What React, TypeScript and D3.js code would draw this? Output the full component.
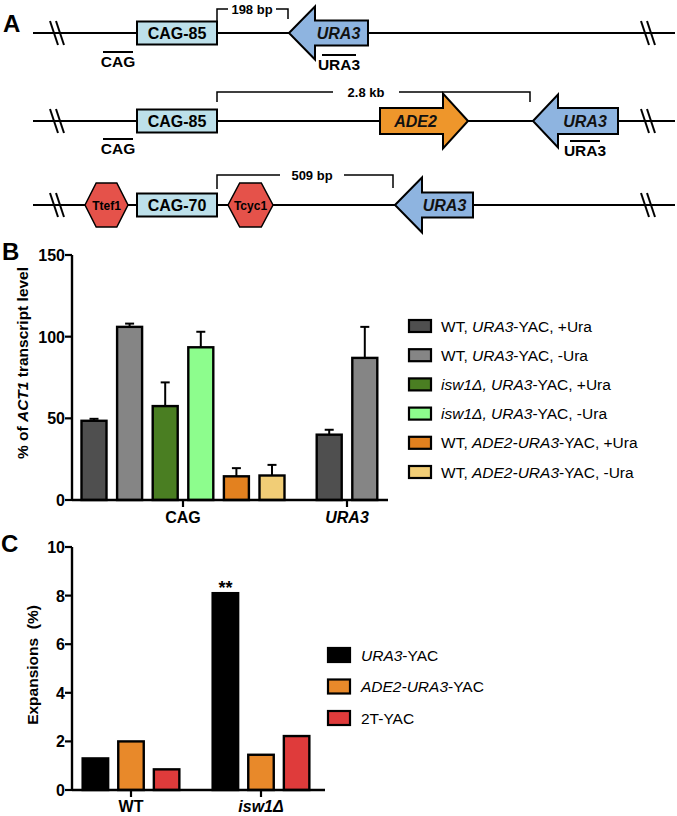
import React from "react";
import * as d3 from "d3";

// ---------- Panel B data ----------
const bCategories = ["CAG", "URA3"];
const bSeries = [
  "WT, URA3-YAC, +Ura",
  "WT, URA3-YAC, -Ura",
  "isw1Δ, URA3-YAC, +Ura",
  "isw1Δ, URA3-YAC, -Ura",
  "WT, ADE2-URA3-YAC, +Ura",
  "WT, ADE2-URA3-YAC, -Ura",
];
const bColors = ["#4f4f4f", "#858585", "#4a7e22", "#8dfd8d", "#e3811f", "#f1cd76"];
const bCagValues = [48.5, 106, 57.5, 93.5, 14.5, 15];
const bCagErrors = [1.2, 2, 14.5, 9.5, 5, 6.5];
const bUraValues = [40, 87];
const bUraErrors = [3, 19];
const bTicks = [0, 50, 100, 150];

// ---------- Panel C data ----------
const cCategories = ["WT", "isw1Δ"];
const cSeries = ["URA3-YAC", "ADE2-URA3-YAC", "2T-YAC"];
const cColors = ["#000000", "#e8892a", "#df3b3b"];
const cWT = [1.3, 2.0, 0.85];
const cIsw1 = [8.1, 1.45, 2.22];
const cTicks = [0, 2, 4, 6, 8, 10];

const FONT = "'Liberation Sans', Arial, Helvetica, sans-serif";

function BreakMark({ x, y }: { x: number; y: number }) {
  return (
    <g stroke="#000" strokeWidth={2}>
      <line x1={x - 7} y1={y - 12} x2={x + 1} y2={y + 12} />
      <line x1={x - 1} y1={y - 12} x2={x + 7} y2={y + 12} />
    </g>
  );
}

function Arrow({ tip, base, end, cy, headH, bodyH, fill, label, dir }: any) {
  const pts =
    dir === "left"
      ? [
          [tip, cy],
          [base, cy - headH],
          [base, cy - bodyH],
          [end, cy - bodyH],
          [end, cy + bodyH],
          [base, cy + bodyH],
          [base, cy + headH],
        ]
      : [
          [tip, cy],
          [base, cy - headH],
          [base, cy - bodyH],
          [end, cy - bodyH],
          [end, cy + bodyH],
          [base, cy + bodyH],
          [base, cy + headH],
        ];
  const tx = dir === "left" ? (base + end) / 2 - 3 : (base + end) / 2 + 4;
  return (
    <g>
      <polygon points={pts.map((p) => p.join(",")).join(" ")} fill={fill} stroke="#000" strokeWidth={2} strokeLinejoin="miter" />
      <text x={tx} y={cy + 6} textAnchor="middle" fontWeight="bold" fontStyle="italic" fontSize={16} fill="#111">
        {label}
      </text>
    </g>
  );
}

function Box({ x0, x1, cy, label }: any) {
  return (
    <g>
      <rect x={x0} y={cy - 11.5} width={x1 - x0} height={23} fill="#bde0ea" stroke="#000" strokeWidth={2} />
      <text x={(x0 + x1) / 2} y={cy + 6} textAnchor="middle" fontWeight="bold" fontSize={16}>
        {label}
      </text>
    </g>
  );
}

function Hex({ x0, x1, cy, label }: any) {
  const w = x1 - x0;
  const h = 22;
  const pts = [
    [x0, cy],
    [x0 + w * 0.26, cy - h],
    [x1 - w * 0.26, cy - h],
    [x1, cy],
    [x1 - w * 0.26, cy + h],
    [x0 + w * 0.26, cy + h],
  ];
  return (
    <g>
      <polygon points={pts.map((p) => p.join(",")).join(" ")} fill="#e5524a" stroke="#000" strokeWidth={1.5} />
      <text x={(x0 + x1) / 2} y={cy + 4.5} textAnchor="middle" fontWeight="bold" fontSize={12}>
        {label}
      </text>
    </g>
  );
}

function Bracket({ x0, x1, yTop, y0, y1, label, tx, gap }: any) {
  return (
    <g>
      <path d={`M${x0},${y0} V${yTop} H${tx - gap}`} fill="none" stroke="#000" strokeWidth={1.5} />
      <path d={`M${tx + gap},${yTop} H${x1} V${y1}`} fill="none" stroke="#000" strokeWidth={1.5} />
      <text x={tx} y={yTop + 4.5} textAnchor="middle" fontWeight="bold" fontSize={13}>
        {label}
      </text>
    </g>
  );
}

function OverLabel({ cx, y, label, w }: any) {
  return (
    <g>
      <line x1={cx - w / 2} x2={cx + w / 2} y1={y} y2={y} stroke="#000" strokeWidth={2} />
      <text x={cx} y={y + 15} textAnchor="middle" fontWeight="bold" fontSize={15.5}>
        {label}
      </text>
    </g>
  );
}

function PanelA() {
  const rows = [33, 121, 205];
  return (
    <g>
      <text x={3} y={32} fontSize={24} fontWeight="bold">A</text>
      {rows.map((y, i) => (
        <g key={i}>
          <line x1={33} x2={675} y1={y} y2={y} stroke="#000" strokeWidth={2.2} />
          <BreakMark x={57} y={y} />
          <BreakMark x={648} y={y} />
        </g>
      ))}
      {/* Row 1 */}
      <Box x0={137} x1={217} cy={rows[0]} label="CAG-85" />
      <Arrow dir="left" tip={289} base={315} end={368} cy={rows[0]} headH={26.5} bodyH={12.5} fill="#8eb4e0" label="URA3" />
      <Bracket x0={217} x1={288} yTop={9} y0={21} y1={19} label="198 bp" tx={252} gap={24} />
      <OverLabel cx={118} y={52} w={30} label="CAG" />
      <OverLabel cx={339} y={55} w={34} label="URA3" />
      {/* Row 2 */}
      <Box x0={137} x1={217} cy={rows[1]} label="CAG-85" />
      <Arrow dir="right" tip={468} base={443} end={380} cy={rows[1]} headH={27.5} bodyH={13} fill="#ee962b" label="ADE2" />
      <Arrow dir="left" tip={533} base={558} end={618} cy={rows[1]} headH={26.5} bodyH={13} fill="#8eb4e0" label="URA3" />
      <Bracket x0={217} x1={530} yTop={92} y0={102} y1={102} label="2.8 kb" tx={366} gap={33} />
      <OverLabel cx={118} y={139} w={30} label="CAG" />
      <OverLabel cx={585} y={141} w={30} label="URA3" />
      {/* Row 3 */}
      <Hex x0={85} x1={128} cy={rows[2]} label="Ttef1" />
      <Box x0={137} x1={217} cy={rows[2]} label="CAG-70" />
      <Hex x0={228} x1={273} cy={rows[2]} label="Tcyc1" />
      <Arrow dir="left" tip={395} base={422} end={473} cy={rows[2]} headH={27.5} bodyH={12.5} fill="#8eb4e0" label="URA3" />
      <Bracket x0={217} x1={393} yTop={175} y0={189} y1={188} label="509 bp" tx={312} gap={32} />
    </g>
  );
}

function PanelB() {
  const y = d3.scaleLinear().domain([0, 150]).range([500, 255]);
  const axisLeft = 72;
  const axisRight = 388;
  const x = d3.scalePoint<string>().domain(bCategories).range([183, 347]);
  const step = 35.6;
  const bw = 25;
  const groups = [
    { cat: "CAG", vals: bCagValues, errs: bCagErrors, idx: [0, 1, 2, 3, 4, 5] },
    { cat: "URA3", vals: bUraValues, errs: bUraErrors, idx: [0, 1] },
  ];
  return (
    <g>
      <text x={2} y={260} fontSize={24} fontWeight="bold">B</text>
      {groups.map((g) =>
        g.vals.map((v, j) => {
          const n = g.vals.length;
          const cx = (x(g.cat) as number) + (j - (n - 1) / 2) * step;
          const top = y(v);
          const et = y(v + g.errs[j]);
          return (
            <g key={g.cat + j}>
              <line x1={cx} x2={cx} y1={top} y2={et} stroke="#000" strokeWidth={2} />
              <line x1={cx - 4.5} x2={cx + 4.5} y1={et} y2={et} stroke="#000" strokeWidth={2} />
              <rect x={cx - bw / 2} y={top} width={bw} height={y(0) - top} fill={bColors[g.idx[j]]} stroke="#000" strokeWidth={2.4} />
            </g>
          );
        })
      )}
      {/* axes */}
      <line x1={axisLeft} x2={axisLeft} y1={y(150)} y2={y(0)} stroke="#000" strokeWidth={2.4} />
      <line x1={axisLeft} x2={axisRight} y1={y(0)} y2={y(0)} stroke="#000" strokeWidth={2.4} />
      {bTicks.map((t) => (
        <g key={t}>
          <line x1={axisLeft - 7} x2={axisLeft} y1={y(t)} y2={y(t)} stroke="#000" strokeWidth={2.2} />
          <text x={axisLeft - 7} y={y(t) + 6} textAnchor="end" fontWeight="bold" fontSize={16}>
            {t}
          </text>
        </g>
      ))}
      {bCategories.map((c) => (
        <g key={c}>
          <line x1={x(c)} x2={x(c)} y1={y(0)} y2={y(0) + 7} stroke="#000" strokeWidth={2.2} />
          <text x={x(c)} y={523} textAnchor="middle" fontWeight="bold" fontSize={16} fontStyle={c === "URA3" ? "italic" : "normal"}>
            {c}
          </text>
        </g>
      ))}
      <text transform={`translate(28,${363}) rotate(-90)`} textAnchor="middle" fontWeight="bold" fontSize={15.5}>
        % of <tspan fontStyle="italic">ACT1</tspan> transcript level
      </text>
      {/* legend */}
      {bSeries.map((s, i) => {
        const ly = 326 + i * 29.2;
        let content: any;
        if (i < 2) content = (<>WT, <tspan fontStyle="italic">URA3</tspan>{i === 0 ? "-YAC, +Ura" : "-YAC, -Ura"}</>);
        else if (i < 4) content = (<><tspan fontStyle="italic">isw1Δ, URA3</tspan>{i === 2 ? "-YAC, +Ura" : "-YAC, -Ura"}</>);
        else content = (<>WT, <tspan fontStyle="italic">ADE2-URA3</tspan>{i === 4 ? "-YAC, +Ura" : "-YAC, -Ura"}</>);
        return (
          <g key={s}>
            <rect x={409} y={ly - 6} width={22} height={12} fill={bColors[i]} stroke="#000" strokeWidth={2.2} />
            <text x={441} y={ly + 5.5} fontSize={15.5}>
              {content}
            </text>
          </g>
        );
      })}
    </g>
  );
}

function PanelC() {
  const y = d3.scaleLinear().domain([0, 10]).range([790, 547]);
  const axisLeft = 72;
  const axisRight = 325;
  const x = d3.scalePoint<string>().domain(cCategories).range([131, 261]);
  const step = 35.6;
  const bw = 25.5;
  const data = [cWT, cIsw1];
  return (
    <g>
      <text x={1} y={552} fontSize={24} fontWeight="bold">C</text>
      {cCategories.map((c, gi) =>
        data[gi].map((v, j) => {
          const cx = (x(c) as number) + (j - 1) * step;
          const top = y(v);
          return (
            <rect key={c + j} x={cx - bw / 2} y={top} width={bw} height={y(0) - top} fill={cColors[j]} stroke="#000" strokeWidth={2.4} />
          );
        })
      )}
      <text x={(x("isw1Δ") as number) - step} y={594} textAnchor="middle" fontWeight="bold" fontSize={18}>
        **
      </text>
      <line x1={axisLeft} x2={axisLeft} y1={y(10)} y2={y(0)} stroke="#000" strokeWidth={2.4} />
      <line x1={axisLeft} x2={axisRight} y1={y(0)} y2={y(0)} stroke="#000" strokeWidth={2.4} />
      {cTicks.map((t) => (
        <g key={t}>
          <line x1={axisLeft - 7} x2={axisLeft} y1={y(t)} y2={y(t)} stroke="#000" strokeWidth={2.2} />
          <text x={axisLeft - 7} y={y(t) + 6} textAnchor="end" fontWeight="bold" fontSize={16}>
            {t}
          </text>
        </g>
      ))}
      {cCategories.map((c) => (
        <g key={c}>
          <line x1={x(c)} x2={x(c)} y1={y(0)} y2={y(0) + 7} stroke="#000" strokeWidth={2.2} />
          <text x={x(c)} y={812} textAnchor="middle" fontWeight="bold" fontSize={16} fontStyle={c === "WT" ? "normal" : "italic"}>
            {c}
          </text>
        </g>
      ))}
      <text transform={`translate(38,665) rotate(-90)`} textAnchor="middle" fontWeight="bold" fontSize={15.5} style={{ whiteSpace: "pre" }}>
        {"Expansions  (%)"}
      </text>
      {cSeries.map((s, i) => {
        const ly = 655 + i * 31.5;
        let content: any;
        if (i === 0) content = (<><tspan fontStyle="italic">URA3</tspan>-YAC</>);
        else if (i === 1) content = (<><tspan fontStyle="italic">ADE2-URA3</tspan>-YAC</>);
        else content = "2T-YAC";
        return (
          <g key={s}>
            <rect x={328} y={ly - 7} width={22} height={14} fill={cColors[i]} stroke="#000" strokeWidth={2.2} />
            <text x={361} y={ly + 5.5} fontSize={15.5}>
              {content}
            </text>
          </g>
        );
      })}
    </g>
  );
}

export default function App() {
  return (
    <svg
      width={677}
      height={816}
      viewBox="0 0 677 816"
      style={{ position: "absolute", left: 0, top: 0, background: "#fff" }}
      fontFamily={FONT}
    >
      <rect width={677} height={816} fill="#fff" />
      <PanelA />
      <PanelB />
      <PanelC />
    </svg>
  );
}
